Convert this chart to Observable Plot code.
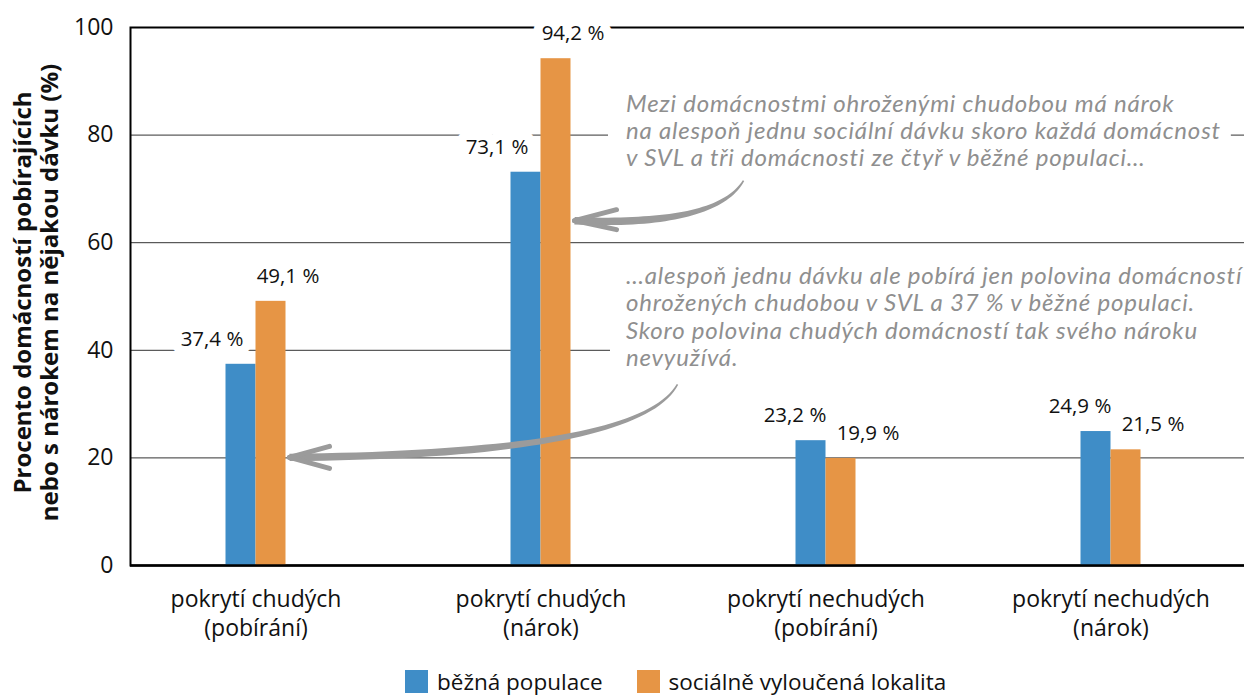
<!DOCTYPE html>
<html>
<head>
<meta charset="utf-8">
<script src="https://cdn.jsdelivr.net/npm/d3@7"></script>
<script src="https://cdn.jsdelivr.net/npm/@observablehq/plot@0.6"></script>
<style>
  html, body { margin: 0; padding: 0; background: #fff; }
  body { width: 1244px; height: 697px; overflow: hidden; position: relative; font-family: "Open Sans", sans-serif; }
  #legend { position: absolute; left: 405px; top: 669px; display: flex; align-items: center; font-size: 22.5px; color: #111; line-height: 25px; }
  #legend .item { display: flex; align-items: center; margin-right: 34px; }
  #legend .sw { width: 23px; height: 23px; margin-right: 9px; }
  .annot text { letter-spacing: 0.8px; }
</style>
</head>
<body>
<div id="chart"></div>
<div id="legend"></div>
<script>
// ---- data ----
const categories = [
  "pokrytí chudých\n(pobírání)",
  "pokrytí chudých\n(nárok)",
  "pokrytí nechudých\n(pobírání)",
  "pokrytí nechudých\n(nárok)"
];
const series = ["běžná populace", "sociálně vyloučená lokalita"];
const beznaPopulace = [37.4, 73.1, 23.2, 24.9];
const socialneVyloucena = [49.1, 94.2, 19.9, 21.5];
const yTicks = [0, 20, 40, 60, 80, 100];
const seriesColors = ["#3f8dc7", "#e69545"];
const yLabel = "Procento domácností pobírajících\nnebo s nárokem na nějakou dávku (%)";
const annotationTexts = [
  "Mezi domácnostmi ohroženými chudobou má nárok\nna alespoň jednu sociální dávku skoro každá domácnost\nv SVL a tři domácnosti ze čtyř v běžné populaci…",
  "…alespoň jednu dávku ale pobírá jen polovina domácností\nohrožených chudobou v SVL a 37 % v běžné populaci.\nSkoro polovina chudých domácností tak svého nároku\nnevyužívá."
];
// arrows point to: [category index, series index, value]
const arrowTargets = [[1, 1, 64], [0, 1, 20]];

// ---- table ----
const rows = [];
categories.forEach((c, i) => {
  rows.push({cat: c, ci: i, series: series[0], si: 0, value: beznaPopulace[i]});
  rows.push({cat: c, ci: i, series: series[1], si: 1, value: socialneVyloucena[i]});
});
const fmt = v => v.toFixed(1).replace(".", ",") + " %";

const BAR = 30; // bar width px
const xRange = [112.5, 1252.5];
const band = (xRange[1] - xRange[0]) / categories.length;
const half = band / 2;

function arrowsMark(index, scales, values, dimensions, context) {
  const sx = scales.x, sy = scales.y;
  const bw = typeof sx.bandwidth === "function" ? sx.bandwidth() : sx.bandwidth;
  const g = d3.create("svg:g");
  const specs = [
    {tail: [169, -40], ctrl: [142, 6], arm1: [42, -11], arm2: [42, 9]},
    {tail: [388, -73], ctrl: [350, -3], arm1: [40, -11], arm2: [40, 11]}
  ];
  arrowTargets.forEach(([ci, si, v], k) => {
    const cx = sx(categories[ci]) + bw / 2;
    const tip = [cx + (si === 1 ? BAR : 0) + 4, sy(v)];
    const s = specs[k];
    const p0 = [tip[0] + s.tail[0], tip[1] + s.tail[1]];
    const c = [tip[0] + s.ctrl[0], tip[1] + s.ctrl[1]];
    const p2 = tip;
    const N = 40, left = [], right = [];
    for (let i = 0; i <= N; i++) {
      const t = i / N;
      const x = (1-t)*(1-t)*p0[0] + 2*(1-t)*t*c[0] + t*t*p2[0];
      const y = (1-t)*(1-t)*p0[1] + 2*(1-t)*t*c[1] + t*t*p2[1];
      const dx = 2*(1-t)*(c[0]-p0[0]) + 2*t*(p2[0]-c[0]);
      const dy = 2*(1-t)*(c[1]-p0[1]) + 2*t*(p2[1]-c[1]);
      const L = Math.hypot(dx, dy) || 1;
      const nx = -dy / L, ny = dx / L;
      const w = 0.8 + 2.9 * Math.min(1, t * 1.4);
      left.push([x + nx * w, y + ny * w]);
      right.push([x - nx * w, y - ny * w]);
    }
    const poly = left.concat(right.reverse());
    g.append("path").attr("d", "M" + poly.map(p => p.join(",")).join("L") + "Z").attr("fill", "#9b9b9b");
    [s.arm1, s.arm2].forEach(a => {
      g.append("path")
        .attr("d", `M${tip[0]},${tip[1]}L${tip[0] + a[0]},${tip[1] + a[1]}`)
        .attr("stroke", "#9b9b9b").attr("stroke-width", 5).attr("stroke-linecap", "round").attr("fill", "none");
    });
  });
  return g.node();
}

const labelMark = (si, cis, dx) => Plot.text(rows.filter(d => d.si === si && cis.includes(d.ci)), {
  x: "cat", y: "value", text: d => fmt(d.value), dx, dy: -25,
  fontSize: 20.5, fill: "#111", stroke: "white", strokeWidth: 18, fontFamily: "Open Sans"
});

const plot = Plot.plot({
  width: 1244,
  height: 665,
  marginTop: 27,
  marginBottom: 100,
  marginLeft: 130,
  marginRight: 0,
  style: {fontFamily: "Open Sans", background: "white", overflow: "hidden"},
  x: {type: "band", domain: categories, range: xRange, padding: 0},
  y: {domain: [0, 100], ticks: yTicks},
  marks: [
    Plot.ruleY([20, 40, 60, 80], {stroke: "#333", strokeWidth: 1}),
    Plot.frame({stroke: "#000", strokeWidth: 2, insetRight: -10}),
    labelMark(0, [0, 1], -44),
    labelMark(1, [0, 1], 32),
    labelMark(0, [2, 3], -31),
    labelMark(1, [2, 3], 42),
    Plot.barY(rows.filter(d => d.si === 0), {x: "cat", y: "value", fill: seriesColors[0], insetLeft: half - BAR, insetRight: half}),
    Plot.barY(rows.filter(d => d.si === 1), {x: "cat", y: "value", fill: seriesColors[1], insetLeft: half, insetRight: half - BAR}),
    Plot.ruleY([0], {stroke: "#000", strokeWidth: 2.5}),
    Plot.axisY({ticks: yTicks, tickSize: 0, tickPadding: 17, fontSize: 23, label: null, fill: "#111"}),
    Plot.axisX({tickSize: 0, tickPadding: 21, fontSize: 23, lineHeight: 1.25, label: null, fill: "#111"}),
    Plot.text([yLabel], {frameAnchor: "left", text: d => d, rotate: -90, dx: -95, dy: -4, textAnchor: "middle", lineAnchor: "middle", fontSize: 24, fontWeight: "bold", lineHeight: 1.12, fill: "#111"}),
    Plot.text([annotationTexts[0]], {x: () => categories[1], y: () => 87.95, text: d => d, dx: 85, textAnchor: "start", lineAnchor: "top", fontSize: 24, lineHeight: 1.14, fontFamily: "Lato", fontStyle: "italic", fill: "#8f8f8f", className: "annot annot1"}),
    Plot.text([annotationTexts[1]], {x: () => categories[1], y: () => 55.95, text: d => d, dx: 85, textAnchor: "start", lineAnchor: "top", fontSize: 24, lineHeight: 1.14, fontFamily: "Lato", fontStyle: "italic", fill: "#8f8f8f", className: "annot annot2"}),
    arrowsMark
  ]
});
document.getElementById("chart").appendChild(plot);

// white boxes behind annotations (interrupt gridlines)
[["annot1", 18, 10], ["annot2", 16, 1000]].forEach(([cls, padL, padR]) => {
  const g = plot.querySelector("g." + cls) || plot.querySelector("." + cls);
  if (!g) return;
  const b = g.getBBox();
  const r = document.createElementNS("http://www.w3.org/2000/svg", "rect");
  r.setAttribute("x", b.x - padL);
  r.setAttribute("y", b.y - 2);
  r.setAttribute("width", b.width + padL + padR);
  r.setAttribute("height", b.height + 4);
  r.setAttribute("fill", "white");
  g.insertBefore(r, g.firstChild);
});

// legend
const lg = document.getElementById("legend");
series.forEach((s, i) => {
  const it = document.createElement("div"); it.className = "item";
  const sw = document.createElement("div"); sw.className = "sw"; sw.style.background = seriesColors[i];
  const tx = document.createElement("span"); tx.textContent = s;
  it.appendChild(sw); it.appendChild(tx); lg.appendChild(it);
});
</script>
</body>
</html>
